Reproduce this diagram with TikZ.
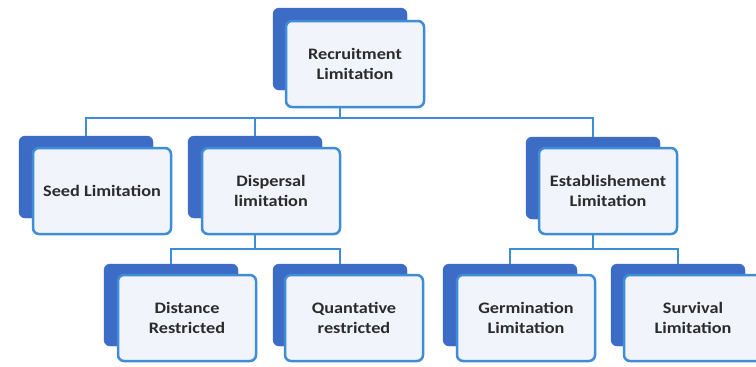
\documentclass[tikz,border=0pt]{standalone}
\usepackage{fontspec}
\setmainfont{Carlito}[FakeStretch=1.14]
\definecolor{backblue}{HTML}{3D6CC6}
\definecolor{frontline}{HTML}{3F8DD6}
\definecolor{frontfill}{HTML}{F1F4FA}
\definecolor{linkblue}{HTML}{3F8DD6}
\definecolor{txt}{HTML}{2B2B2B}
\begin{document}
\begin{tikzpicture}[x=1pt,y=-1pt,
  backbox/.style={draw=backblue, fill=backblue, rounded corners=6pt, minimum width=134pt, minimum height=82pt, inner sep=0pt},
  frontbox/.style={draw=frontline, fill=frontfill, line width=2.5pt, rounded corners=6pt, minimum width=138pt, minimum height=86pt, inner sep=0pt, align=center, text=txt, font=\fontsize{16}{20}\selectfont\bfseries},
  link/.style={draw=linkblue, line width=2.5pt}]
\useasboundingbox (0,0) rectangle (756,367);
\fill[white] (0,0) rectangle (756,367);
% boxes
\node[backbox] (Rb) at (340,49) {};
\node[frontbox] (Rf) at (355,64) {Recruitment\\Limitation};
\node[backbox] (Sb) at (86,177) {};
\node[frontbox] (Sf) at (102,191) {Seed Limitation};
\node[backbox] (Db) at (255,177) {};
\node[frontbox] (Df) at (271,191) {Dispersal\\limitation};
\node[backbox] (Eb) at (593,178) {};
\node[frontbox] (Ef) at (608,191) {Establishement\\Limitation};
\node[backbox] (Dib) at (171,305) {};
\node[frontbox] (Dif) at (187,318) {Distance\\Restricted};
\node[backbox] (Qb) at (340,305) {};
\node[frontbox] (Qf) at (354,318) {Quantative\\restricted};
\node[backbox] (Gb) at (510,305) {};
\node[frontbox] (Gf) at (526,318) {Germination\\Limitation};
\node[backbox] (Sub) at (678,305) {};
\node[frontbox] (Suf) at (693,318) {Survival\\Limitation};
% buses
\coordinate (bus1) at (0,118);
\coordinate (bus2) at (0,249);
% connectors
\draw[link] (Rb.center |- Rf.south) -- (Rb.center |- bus1);
\draw[link] (Sb.north) -- (Sb.north |- bus1) -- (Eb.north |- bus1) -- (Eb.north);
\draw[link] (Db.north |- bus1) -- (Db.north);
\draw[link] (Db.center |- Df.south) -- (Db.center |- bus2);
\draw[link] (Dib.north) -- (Dib.north |- bus2) -- (Qb.north |- bus2) -- (Qb.north);
\draw[link] (Eb.center |- Ef.south) -- (Eb.center |- bus2);
\draw[link] (Gb.north) -- (Gb.north |- bus2) -- (Sub.north |- bus2) -- (Sub.north);
\end{tikzpicture}
\end{document}
